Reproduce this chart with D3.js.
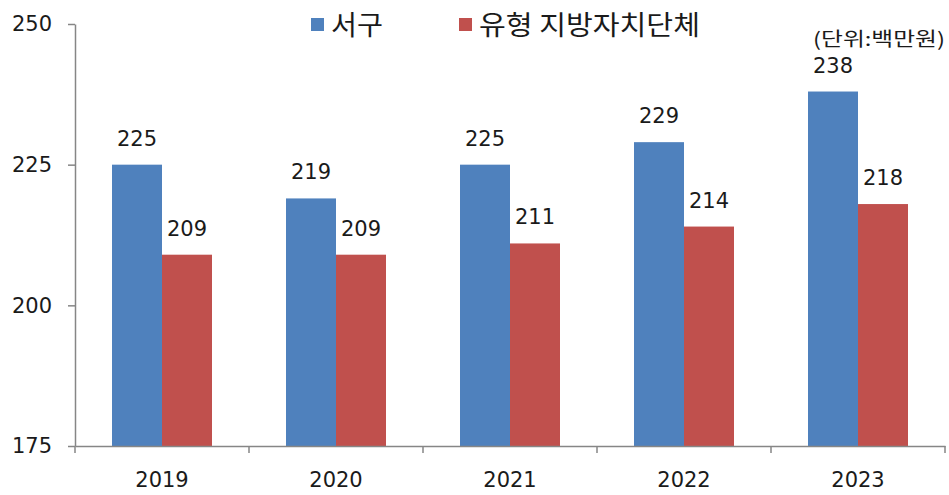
<!DOCTYPE html>
<html>
<head>
<meta charset="utf-8">
<script src="https://cdn.jsdelivr.net/npm/d3@7"></script>
<style>
  body { margin: 0; background: #fff; }
  svg { display: block; }
</style>
</head>
<body>
<div id="chart"></div>
<script>
// data
const years = ["2019", "2020", "2021", "2022", "2023"];
const seriesNames = ["서구", "유형 지방자치단체"];
const seogu = [225, 219, 225, 229, 238];
const peerGroup = [209, 209, 211, 214, 218];
const yTicks = [175, 200, 225, 250];
const unitLabel = "(단위:백만원)";

const colors = ["#4F81BD", "#C0504D"];

const width = 949;
const height = 495;
const margin = { top: 24, right: 4, bottom: 49, left: 75 };
const innerWidth = width - margin.left - margin.right;
const innerHeight = height - margin.top - margin.bottom;

const data = years.map((yr, i) => ({
  year: yr,
  values: [
    { key: seriesNames[0], value: seogu[i] },
    { key: seriesNames[1], value: peerGroup[i] }
  ]
}));

const svg = d3.select("#chart")
  .append("svg")
  .attr("width", width)
  .attr("height", height)
  .style("background", "#fff");

const g = svg.append("g")
  .attr("transform", `translate(${margin.left}, ${margin.top})`);

const x0 = d3.scaleBand()
  .domain(years)
  .range([0, innerWidth])
  .padding(0);

const x1 = d3.scaleBand()
  .domain(seriesNames)
  .range([0, x0.bandwidth()])
  .paddingInner(0)
  .paddingOuter(0.74);

const y = d3.scaleLinear()
  .domain([175, 250])
  .range([innerHeight, 0]);

const color = d3.scaleOrdinal()
  .domain(seriesNames)
  .range(colors);

// bars
const groups = g.selectAll("g.year-group")
  .data(data)
  .enter()
  .append("g")
  .attr("class", "year-group")
  .attr("transform", d => `translate(${x0(d.year)},0)`);

groups.selectAll("rect")
  .data(d => d.values)
  .enter()
  .append("rect")
  .attr("x", d => x1(d.key))
  .attr("y", d => y(d.value))
  .attr("width", x1.bandwidth())
  .attr("height", d => innerHeight - y(d.value))
  .attr("fill", d => color(d.key));

groups.selectAll("text.val")
  .data(d => d.values)
  .enter()
  .append("text")
  .attr("class", "val")
  .attr("x", d => x1(d.key) + x1.bandwidth() / 2)
  .attr("y", d => y(d.value) - 19)
  .attr("text-anchor", "middle")
  .style("font-family", "DejaVu Sans, sans-serif")
  .style("font-size", "21px")
  .style("fill", "#1a1a1a")
  .text(d => d.value);

// y axis
const yAxis = g.append("g")
  .call(d3.axisLeft(y).tickValues(yTicks).tickSize(7).tickSizeOuter(0).tickPadding(16));

yAxis.select(".domain").attr("stroke", "#868686").attr("stroke-width", 1.5);
yAxis.selectAll(".tick line").attr("stroke", "#868686").attr("stroke-width", 1.5);
yAxis.selectAll(".tick text")
  .style("font-family", "DejaVu Sans, sans-serif")
  .style("font-size", "21px")
  .style("fill", "#1a1a1a");

// x axis
const xAxis = g.append("g")
  .attr("transform", `translate(0, ${innerHeight})`)
  .call(d3.axisBottom(x0).tickSize(0).tickPadding(0).tickSizeOuter(0));

xAxis.select(".domain").attr("stroke", "#868686").attr("stroke-width", 1.5);
xAxis.selectAll(".tick text")
  .attr("y", 41)
  .attr("dy", null)
  .style("font-family", "DejaVu Sans, sans-serif")
  .style("font-size", "21px")
  .style("fill", "#1a1a1a");

// tick marks between the categories
const boundaries = years.map(yr => x0(yr)).concat([x0(years[years.length - 1]) + x0.bandwidth()]);
xAxis.selectAll("line.sep")
  .data(boundaries)
  .enter()
  .append("line")
  .attr("class", "sep")
  .attr("x1", d => d)
  .attr("x2", d => d)
  .attr("y1", 0)
  .attr("y2", 7)
  .attr("stroke", "#868686")
  .attr("stroke-width", 1.5);

// legend
const legendPos = [311, 459];
const legendLen = [52, 221];
const legend = svg.append("g");
seriesNames.forEach((name, i) => {
  const lg = legend.append("g")
    .attr("transform", `translate(${legendPos[i]}, 0)`);
  lg.append("rect")
    .attr("x", 0)
    .attr("y", 18)
    .attr("width", 13)
    .attr("height", 13)
    .attr("fill", colors[i]);
  lg.append("text")
    .attr("x", 20)
    .attr("y", 35)
    .attr("textLength", legendLen[i])
    .attr("lengthAdjust", "spacingAndGlyphs")
    .style("font-family", "Noto Sans CJK KR, sans-serif")
    .style("font-size", "27px")
    .style("fill", "#1a1a1a")
    .text(name);
});

// unit
svg.append("text")
  .attr("x", 813)
  .attr("y", 46)
  .attr("textLength", 132)
  .attr("lengthAdjust", "spacingAndGlyphs")
  .style("font-family", "Noto Sans CJK KR, sans-serif")
  .style("font-size", "19px")
  .style("fill", "#1a1a1a")
  .text(unitLabel);
</script>
</body>
</html>
